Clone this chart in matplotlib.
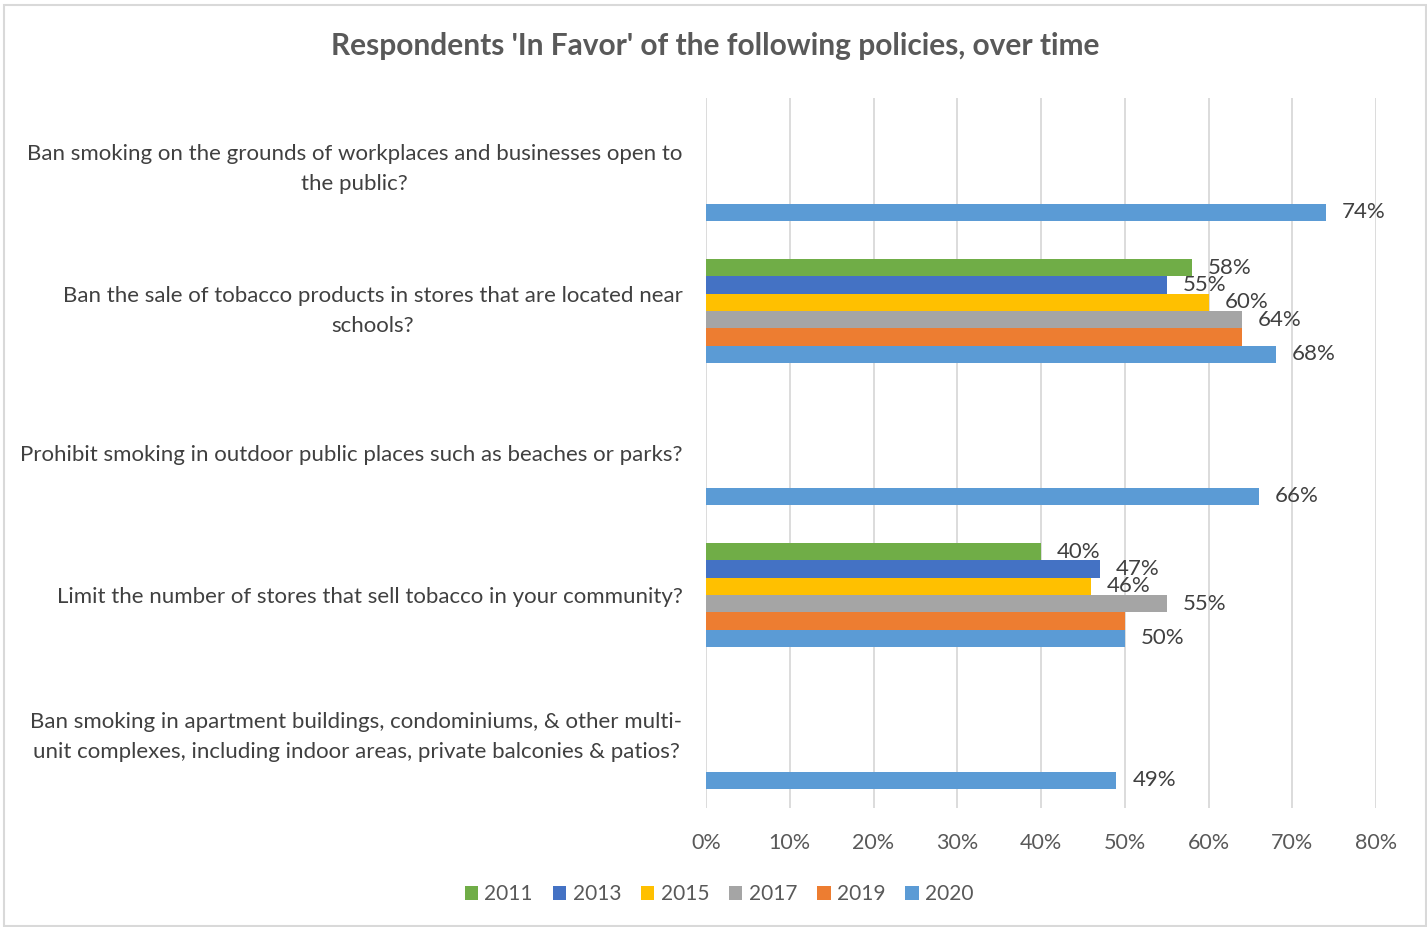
import matplotlib.pyplot as plt
from matplotlib.patches import Patch, Rectangle
import numpy as np

plt.rcParams['font.family'] = ['Lato', 'DejaVu Sans']

policies = [
    "Ban smoking on the grounds of workplaces and businesses open to\nthe public?",
    "Ban the sale of tobacco products in stores that are located near\nschools?",
    "Prohibit smoking in outdoor public places such as beaches or parks?",
    "Limit the number of stores that sell tobacco in your community?",
    "Ban smoking in apartment buildings, condominiums, & other multi-\nunit complexes, including indoor areas, private balconies & patios?",
]
years = ["2011", "2013", "2015", "2017", "2019", "2020"]
colors = ["#70AD47", "#4472C4", "#FFC000", "#A5A5A5", "#ED7D31", "#5B9BD5"]

# share in favor per policy (None = not asked that year)
v2011 = [None, 0.58, None, 0.40, None]
v2013 = [None, 0.55, None, 0.47, None]
v2015 = [None, 0.60, None, 0.46, None]
v2017 = [None, 0.64, None, 0.55, None]
v2019 = [None, 0.64, None, 0.50, None]
v2020 = [0.74, 0.68, 0.66, 0.50, 0.49]
series = [v2011, v2013, v2015, v2017, v2019, v2020]
labelled = [True, True, True, True, False, True]

xticks = [0, 0.1, 0.2, 0.3, 0.4, 0.5, 0.6, 0.7, 0.8]

fig = plt.figure(figsize=(14.27, 9.27), dpi=100)
ax = fig.add_axes([706/1427, 1-808/927, 670/1427, 710/927])

fig.patches.append(Rectangle((4/1427, 1-926/927), 1422/1427, 921/927,
                             transform=fig.transFigure, fill=False,
                             edgecolor="#D9D9D9", linewidth=1.5))

bh = 0.1225
label_color = "#404040"
for j, (vals, col) in enumerate(zip(series, colors)):
    for i, v in enumerate(vals):
        if v is None:
            continue
        y = i + (j - 2.5) * bh
        ax.barh(y, v, height=bh, color=col, zorder=3)
        if labelled[j]:
            ax.annotate(f"{v*100:.0f}%", (v, y), xytext=(11.5, 0),
                        textcoords="offset points", ha="left", va="center",
                        fontsize=16, color=label_color, zorder=4)

ax.set_xlim(0, 0.8)
ax.set_ylim(4.5, -0.5)
ax.set_xticks(xticks)
ax.set_xticklabels([f"{t*100:.0f}%" for t in xticks], fontsize=15.5, color="#595959")
ax.set_yticks(range(len(policies)))
ax.set_yticklabels(policies, fontsize=16, color=label_color)
for lbl in ax.get_yticklabels():
    lbl.set_multialignment("center")
    lbl.set_linespacing(1.6)
    if "\n" in lbl.get_text():
        lbl.set_verticalalignment("center")
ax.tick_params(axis="y", length=0, pad=17)
ax.tick_params(axis="x", length=0, pad=18)
ax.grid(axis="x", color="#D9D9D9", linewidth=1.3, zorder=0)
for s in ax.spines.values():
    s.set_visible(False)

fig.text(715/1427, 1-46/927, "Respondents 'In Favor' of the following policies, over time",
         ha="center", va="center", fontsize=21.5, fontweight="bold", color="#595959")

handles = [Patch(facecolor=c, edgecolor="none") for c in colors]
fig.legend(handles, years, loc="center", bbox_to_anchor=(719/1427, 1-894/927),
           ncol=6, frameon=False, fontsize=15, labelcolor="#595959",
           handlelength=0.65, handleheight=0.65, handletextpad=0.3, columnspacing=0.95)

fig.savefig("out.png", dpi=100, facecolor="white")
